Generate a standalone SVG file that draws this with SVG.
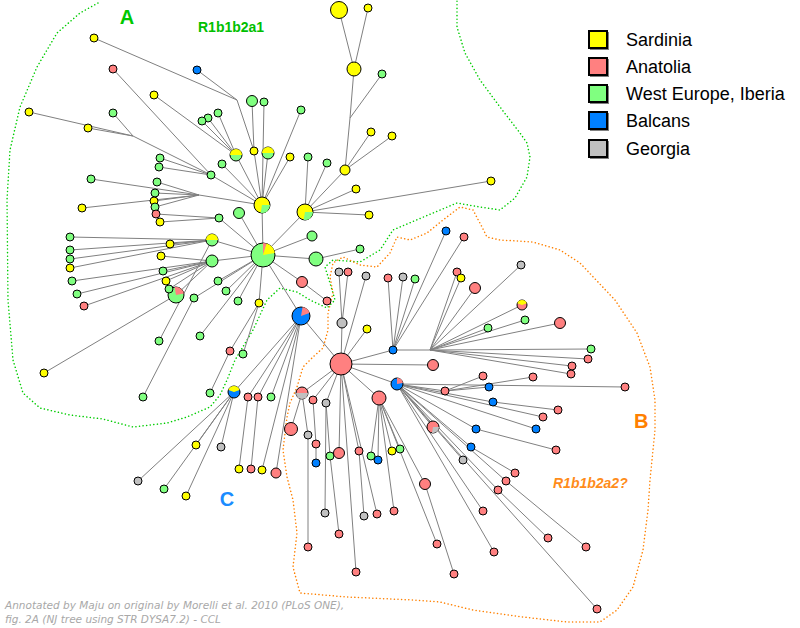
<svg xmlns="http://www.w3.org/2000/svg" width="800" height="628" viewBox="0 0 800 628">
<style>
.y{fill:#ffff00}.p{fill:#ff8080}.g{fill:#80ff80}.b{fill:#0080ff}.k{fill:#c0c0c0}
.n circle{stroke:#000;stroke-width:1}
.w{stroke:none}
#edges line{stroke:#808080;stroke-width:1}
.lab{font-family:"Liberation Sans",Arial,sans-serif;font-weight:bold}
.leg{font-family:"Liberation Sans",Arial,sans-serif;font-size:18px;fill:#000}
.sq{stroke:#000;stroke-width:2}
</style>
<rect width="800" height="628" fill="#fff"/>
<g id="regions" fill="none" stroke-width="1.5" stroke-linecap="round" stroke-dasharray="0.1 3.5">
<polyline stroke="#00cc00" points="98,3 80,13 57,33 37,67 20,107 10,150 7,200 8,300 13,360 23,393 40,408 70,415 103,419 133,427 167,423 187,417 210,407 220,395 227,380 235,360 253,330 267,300 280,288 297,292 310,300 327,308 335,300 330,283 325,267 333,260 360,262 380,250 393,230 400,227 433,213 457,203 480,207 500,210 515,198 527,177 530,157 527,143 520,133 500,107 480,80 465,53 457,27 457,0"/>
<polyline stroke="#ff8000" points="290,403 297,387 303,367 313,357 323,348 328,330 328,313 333,293 330,277 333,263 343,257 360,265 377,267 390,253 397,237 410,240 427,233 443,220 460,207 473,210 482,227 487,237 500,240 533,242 560,250 580,263 598,282 615,300 637,333 650,367 655,400 655,430 650,480 648,510 643,550 633,587 617,610 600,622 567,622 523,617 473,610 440,602 413,600 347,597 300,593 293,567 297,533 293,500 287,477 283,450 287,417 290,403"/>
</g>
<g id="edges">
<line x1="94" y1="38" x2="237" y2="100"/><line x1="197" y1="70" x2="237" y2="100"/><line x1="237" y1="100" x2="254" y2="151"/><line x1="252" y1="101" x2="254" y2="151"/><line x1="254" y1="151" x2="262" y2="205"/>
<line x1="113" y1="69" x2="211" y2="175"/><line x1="29" y1="112" x2="133" y2="136"/><line x1="88" y1="128" x2="133" y2="136"/><line x1="113" y1="113" x2="133" y2="136"/><line x1="133" y1="136" x2="211" y2="175"/><line x1="160" y1="158" x2="211" y2="175"/><line x1="159" y1="167" x2="211" y2="175"/><line x1="211" y1="175" x2="262" y2="205"/>
<line x1="154" y1="95" x2="236" y2="155"/><line x1="202" y1="121" x2="236" y2="155"/><line x1="218" y1="113" x2="236" y2="155"/><line x1="208" y1="118" x2="236" y2="155"/><line x1="236" y1="155" x2="262" y2="205"/>
<line x1="264" y1="102" x2="262" y2="205"/><line x1="301" y1="110" x2="262" y2="205"/><line x1="222" y1="164" x2="262" y2="205"/><line x1="268" y1="153" x2="262" y2="205"/><line x1="290" y1="157" x2="262" y2="205"/>
<line x1="157" y1="182" x2="199" y2="195"/><line x1="155" y1="193" x2="199" y2="195"/><line x1="154" y1="201" x2="199" y2="195"/><line x1="155" y1="207" x2="199" y2="195"/><line x1="91" y1="179" x2="199" y2="195"/><line x1="82" y1="208" x2="199" y2="195"/><line x1="199" y1="195" x2="262" y2="205"/>
<line x1="339" y1="10" x2="354" y2="69"/><line x1="368" y1="8" x2="354" y2="69"/><line x1="354" y1="69" x2="350" y2="118"/><line x1="382" y1="74" x2="350" y2="118"/><line x1="350" y1="118" x2="345" y2="170"/><line x1="371" y1="132" x2="345" y2="170"/><line x1="392" y1="136" x2="345" y2="170"/>
<line x1="345" y1="170" x2="305" y2="212"/><line x1="308" y1="157" x2="305" y2="212"/><line x1="327" y1="163" x2="305" y2="212"/><line x1="356" y1="189" x2="305" y2="212"/><line x1="491" y1="181" x2="305" y2="212"/><line x1="369" y1="215" x2="305" y2="212"/>
<line x1="262" y1="205" x2="263" y2="255"/><line x1="305" y1="212" x2="263" y2="255"/><line x1="239" y1="213" x2="263" y2="255"/>
<line x1="156" y1="214" x2="219" y2="218"/><line x1="160" y1="222" x2="219" y2="218"/><line x1="219" y1="218" x2="263" y2="255"/><line x1="312" y1="236" x2="263" y2="255"/>
<line x1="170" y1="244" x2="212" y2="240"/><line x1="70" y1="237" x2="212" y2="240"/><line x1="70" y1="250" x2="212" y2="240"/><line x1="70" y1="259" x2="212" y2="240"/><line x1="70" y1="268" x2="212" y2="240"/><line x1="159" y1="341" x2="212" y2="240"/><line x1="212" y1="240" x2="263" y2="255"/>
<line x1="161" y1="256" x2="212" y2="261"/><line x1="163" y1="271" x2="212" y2="261"/><line x1="166" y1="281" x2="212" y2="261"/><line x1="72" y1="281" x2="212" y2="261"/><line x1="77" y1="294" x2="212" y2="261"/><line x1="84" y1="306" x2="212" y2="261"/><line x1="169" y1="289" x2="212" y2="261"/><line x1="44" y1="373" x2="176" y2="295"/><line x1="176" y1="295" x2="212" y2="261"/><line x1="212" y1="261" x2="263" y2="255"/>
<line x1="316" y1="259" x2="263" y2="255"/><line x1="360" y1="249" x2="316" y2="259"/><line x1="194" y1="298" x2="263" y2="255"/><line x1="143" y1="397" x2="194" y2="298"/><line x1="200" y1="336" x2="263" y2="255"/><line x1="218" y1="281" x2="263" y2="255"/><line x1="226" y1="291" x2="263" y2="255"/><line x1="238" y1="301" x2="263" y2="255"/><line x1="259" y1="303" x2="263" y2="255"/><line x1="230" y1="351" x2="259" y2="303"/><line x1="243" y1="354" x2="259" y2="303"/><line x1="210" y1="393" x2="230" y2="351"/><line x1="302" y1="282" x2="263" y2="255"/><line x1="327" y1="301" x2="302" y2="282"/>
<line x1="301" y1="316" x2="263" y2="255"/>
<line x1="234" y1="392" x2="301" y2="316"/><line x1="248" y1="397" x2="301" y2="316"/><line x1="258" y1="397" x2="301" y2="316"/><line x1="271" y1="397" x2="301" y2="316"/>
<line x1="196" y1="445" x2="234" y2="392"/><line x1="221" y1="447" x2="234" y2="392"/><line x1="138" y1="481" x2="234" y2="392"/><line x1="164" y1="489" x2="234" y2="392"/><line x1="186" y1="496" x2="234" y2="392"/>
<line x1="239" y1="469" x2="248" y2="397"/><line x1="251" y1="469" x2="258" y2="397"/><line x1="262" y1="470" x2="301" y2="316"/><line x1="276" y1="473" x2="301" y2="316"/>
<line x1="341" y1="364" x2="301" y2="316"/>
<line x1="342" y1="323" x2="341" y2="364"/><line x1="339" y1="272" x2="342" y2="323"/><line x1="348" y1="272" x2="342" y2="323"/><line x1="366" y1="276" x2="341" y2="364"/><line x1="367" y1="329" x2="341" y2="364"/>
<line x1="393" y1="350" x2="341" y2="364"/><line x1="388" y1="278" x2="393" y2="350"/><line x1="446" y1="231" x2="393" y2="350"/><line x1="464" y1="237" x2="393" y2="350"/><line x1="403" y1="277" x2="393" y2="350"/><line x1="415" y1="279" x2="393" y2="350"/>
<line x1="393" y1="350" x2="430" y2="350"/>
<line x1="430" y1="350" x2="457" y2="272"/><line x1="430" y1="350" x2="461" y2="278"/><line x1="430" y1="350" x2="475" y2="288"/><line x1="430" y1="350" x2="521" y2="265"/><line x1="430" y1="350" x2="522" y2="305"/><line x1="430" y1="350" x2="525" y2="320"/><line x1="430" y1="350" x2="488" y2="328"/><line x1="430" y1="350" x2="560" y2="323"/><line x1="430" y1="350" x2="591" y2="349"/><line x1="430" y1="350" x2="588" y2="359"/><line x1="430" y1="350" x2="572" y2="366"/><line x1="430" y1="350" x2="571" y2="374"/>
<line x1="433" y1="365" x2="341" y2="364"/><line x1="397" y1="384" x2="341" y2="364"/>
<line x1="445" y1="391" x2="397" y2="384"/><line x1="483" y1="376" x2="445" y2="391"/><line x1="489" y1="387" x2="445" y2="391"/><line x1="533" y1="377" x2="445" y2="391"/>
<line x1="625" y1="387" x2="397" y2="384"/><line x1="493" y1="402" x2="397" y2="384"/><line x1="558" y1="410" x2="493" y2="402"/><line x1="543" y1="417" x2="397" y2="384"/><line x1="476" y1="429" x2="397" y2="384"/><line x1="556" y1="450" x2="476" y2="429"/><line x1="536" y1="429" x2="397" y2="384"/><line x1="471" y1="447" x2="397" y2="384"/><line x1="515" y1="473" x2="471" y2="447"/><line x1="463" y1="460" x2="397" y2="384"/><line x1="506" y1="481" x2="397" y2="384"/><line x1="586" y1="547" x2="506" y2="481"/><line x1="498" y1="490" x2="397" y2="384"/><line x1="548" y1="538" x2="498" y2="490"/><line x1="483" y1="511" x2="397" y2="384"/><line x1="433" y1="427" x2="397" y2="384"/><line x1="494" y1="552" x2="397" y2="384"/><line x1="597" y1="609" x2="397" y2="384"/>
<line x1="379" y1="398" x2="341" y2="364"/><line x1="425" y1="484" x2="379" y2="398"/><line x1="454" y1="574" x2="425" y2="484"/><line x1="371" y1="456" x2="379" y2="398"/><line x1="378" y1="460" x2="379" y2="398"/><line x1="392" y1="451" x2="379" y2="398"/><line x1="400" y1="449" x2="379" y2="398"/><line x1="394" y1="511" x2="379" y2="398"/><line x1="437" y1="544" x2="379" y2="398"/>
<line x1="302" y1="393" x2="341" y2="364"/><line x1="291" y1="429" x2="302" y2="393"/><line x1="308" y1="435" x2="302" y2="393"/><line x1="308" y1="547" x2="308" y2="435"/>
<line x1="313" y1="400" x2="341" y2="364"/><line x1="316" y1="444" x2="313" y2="400"/><line x1="316" y1="463" x2="316" y2="444"/>
<line x1="326" y1="403" x2="341" y2="364"/><line x1="325" y1="513" x2="326" y2="403"/><line x1="330" y1="456" x2="326" y2="403"/><line x1="339" y1="534" x2="330" y2="456"/>
<line x1="339" y1="453" x2="341" y2="364"/><line x1="359" y1="451" x2="341" y2="364"/><line x1="364" y1="516" x2="359" y2="451"/><line x1="356" y1="572" x2="341" y2="364"/><line x1="377" y1="514" x2="341" y2="364"/>
</g>
<g id="nodes" class="n">
<g id="n-a1"><circle class="y" cx="94" cy="38" r="4"/></g>
<g id="n-a2"><circle class="p" cx="113" cy="69" r="4"/></g>
<g id="n-a3"><circle class="b" cx="197" cy="70" r="4"/></g>
<g id="n-a4"><circle class="y" cx="154" cy="95" r="4"/></g>
<g id="n-a6"><circle class="y" cx="29" cy="112" r="4"/></g>
<g id="n-a7"><circle class="y" cx="88" cy="128" r="4"/></g>
<g id="n-a8"><circle class="g" cx="113" cy="113" r="4"/></g>
<g id="n-a9"><circle class="y" cx="339" cy="10" r="8.5"/></g>
<g id="n-a10"><circle class="y" cx="368" cy="8" r="4"/></g>
<g id="n-a11"><circle class="y" cx="354" cy="69" r="7"/></g>
<g id="n-a12"><circle class="g" cx="382" cy="74" r="4"/></g>
<g id="n-a13"><circle class="g" cx="252" cy="101" r="5.5"/></g>
<g id="n-a14"><circle class="g" cx="264" cy="102" r="4"/></g>
<g id="n-a15"><circle class="g" cx="301" cy="110" r="4"/></g>
<g id="n-a16"><circle class="g" cx="218" cy="113" r="4"/></g>
<g id="n-a17"><circle class="g" cx="208" cy="118" r="4"/></g>
<g id="n-a18"><circle class="g" cx="202" cy="121" r="4"/></g>
<g id="n-a19"><circle class="g" cx="236" cy="155" r="6"/><path class="y w" d="M230,155 A6,6 0 0 1 242,155 Z"/></g>
<g id="n-a20"><circle class="y" cx="254" cy="151" r="4"/></g>
<g id="n-a21"><circle class="g" cx="268" cy="153" r="6"/><path class="y w" d="M262,153 A6,6 0 0 1 274,153 Z"/></g>
<g id="n-a22"><circle class="g" cx="222" cy="164" r="4"/></g>
<g id="n-a23"><circle class="g" cx="211" cy="175" r="4"/></g>
<g id="n-a24"><circle class="y" cx="290" cy="157" r="4"/></g>
<g id="n-a25"><circle class="g" cx="308" cy="157" r="4"/></g>
<g id="n-a26"><circle class="g" cx="327" cy="163" r="4"/></g>
<g id="n-a27"><circle class="y" cx="345" cy="170" r="5"/></g>
<g id="n-a28"><circle class="y" cx="371" cy="132" r="4"/></g>
<g id="n-a29"><circle class="y" cx="392" cy="136" r="4"/></g>
<g id="n-a30"><circle class="y" cx="356" cy="189" r="4"/></g>
<g id="n-y1"><circle class="y" cx="262" cy="205" r="8"/><path class="g w" d="M262,205 L270,205 A8,8 0 0 1 260.6,212.9 Z"/></g>
<g id="n-y2"><circle class="y" cx="305" cy="212" r="8"/><path class="g w" d="M305,212 L313,212 A8,8 0 0 1 303.6,219.9 Z"/></g>
<g id="n-a33"><circle class="y" cx="491" cy="181" r="4"/></g>
<g id="n-a34"><circle class="g" cx="160" cy="158" r="4"/></g>
<g id="n-a35"><circle class="g" cx="159" cy="167" r="4"/></g>
<g id="n-a36"><circle class="g" cx="157" cy="182" r="4"/></g>
<g id="n-a37"><circle class="g" cx="155" cy="193" r="4"/></g>
<g id="n-a38"><circle class="y" cx="154" cy="201" r="4"/></g>
<g id="n-a39"><circle class="g" cx="155" cy="207" r="4"/></g>
<g id="n-a40"><circle class="p" cx="156" cy="214" r="4"/></g>
<g id="n-a41"><circle class="y" cx="160" cy="222" r="4"/></g>
<g id="n-a42"><circle class="g" cx="91" cy="179" r="4"/></g>
<g id="n-a43"><circle class="y" cx="82" cy="208" r="4"/></g>
<g id="n-a44"><circle class="g" cx="239" cy="213" r="5.5"/></g>
<g id="n-a45"><circle class="g" cx="219" cy="218" r="4"/></g>
<g id="n-a46"><circle class="y" cx="369" cy="215" r="4"/></g>
<g id="n-a47"><circle class="g" cx="312" cy="236" r="5"/></g>
<g id="n-a48"><circle class="g" cx="212" cy="240" r="6"/><path class="y w" d="M206,240 A6,6 0 0 1 218,240 Z"/></g>
<g id="n-a49"><circle class="y" cx="170" cy="244" r="4"/></g>
<g id="n-a50"><circle class="y" cx="161" cy="256" r="4"/></g>
<g id="n-a51"><circle class="g" cx="163" cy="271" r="4"/></g>
<g id="n-a52"><circle class="y" cx="166" cy="281" r="4"/></g>
<g id="n-a53"><circle class="g" cx="70" cy="237" r="4"/></g>
<g id="n-a54"><circle class="g" cx="70" cy="250" r="4"/></g>
<g id="n-a55"><circle class="g" cx="70" cy="259" r="4"/></g>
<g id="n-a56"><circle class="y" cx="70" cy="268" r="4"/></g>
<g id="n-a57"><circle class="g" cx="72" cy="281" r="4"/></g>
<g id="n-a58"><circle class="g" cx="77" cy="294" r="4"/></g>
<g id="n-a59"><circle class="p" cx="84" cy="306" r="4"/></g>
<g id="n-a60"><circle class="g" cx="212" cy="261" r="6"/></g>
<g id="n-g0"><circle class="g" cx="263" cy="255" r="12"/><path class="p w" d="M263,255 L263,243 A12,12 0 0 1 266.7,243.6 Z"/><path class="y w" d="M263,255 L266.7,243.6 A12,12 0 0 1 274.8,252.9 Z"/></g>
<g id="n-a62"><circle class="g" cx="316" cy="259" r="7"/></g>
<g id="n-a63"><circle class="g" cx="360" cy="249" r="4"/></g>
<g id="n-a64"><circle class="g" cx="176" cy="295" r="8"/><path class="p w" d="M176,295 L174.6,287.1 A8,8 0 0 1 183.9,293.6 Z"/></g>
<g id="n-a65"><circle class="g" cx="169" cy="289" r="4"/></g>
<g id="n-a66"><circle class="g" cx="194" cy="298" r="4"/></g>
<g id="n-a67"><circle class="y" cx="44" cy="373" r="4"/></g>
<g id="n-a68"><circle class="g" cx="159" cy="341" r="4"/></g>
<g id="n-a69"><circle class="g" cx="143" cy="397" r="4"/></g>
<g id="n-a70"><circle class="g" cx="200" cy="336" r="4"/></g>
<g id="n-a71"><circle class="g" cx="218" cy="281" r="4"/></g>
<g id="n-a72"><circle class="g" cx="226" cy="291" r="4"/></g>
<g id="n-a73"><circle class="g" cx="238" cy="301" r="4"/></g>
<g id="n-a74"><circle class="y" cx="259" cy="303" r="4"/></g>
<g id="n-a75"><circle class="p" cx="230" cy="351" r="4"/></g>
<g id="n-a76"><circle class="g" cx="243" cy="354" r="4"/></g>
<g id="n-a77"><circle class="p" cx="302" cy="282" r="5.5"/></g>
<g id="n-a78"><circle class="p" cx="327" cy="301" r="4"/></g>
<g id="n-b0"><circle class="b" cx="301" cy="316" r="9"/><path class="p w" d="M301,316 L302.6,307.1 A9,9 0 0 1 309.5,312.9 Z"/></g>
<g id="n-c1"><circle class="b" cx="234" cy="392" r="6"/><path class="y w" d="M234,392 L228.4,389.9 A6,6 0 0 1 239.6,389.9 Z"/></g>
<g id="n-c2"><circle class="g" cx="210" cy="393" r="4"/></g>
<g id="n-c3"><circle class="p" cx="248" cy="397" r="4"/></g>
<g id="n-c4"><circle class="p" cx="258" cy="397" r="4"/></g>
<g id="n-c5"><circle class="g" cx="271" cy="397" r="4"/></g>
<g id="n-c6"><circle class="y" cx="196" cy="445" r="4"/></g>
<g id="n-c7"><circle class="k" cx="221" cy="447" r="4"/></g>
<g id="n-c8"><circle class="k" cx="138" cy="481" r="4"/></g>
<g id="n-c9"><circle class="g" cx="164" cy="489" r="4"/></g>
<g id="n-c10"><circle class="y" cx="186" cy="496" r="4"/></g>
<g id="n-c11"><circle class="y" cx="239" cy="469" r="4"/></g>
<g id="n-c12"><circle class="p" cx="251" cy="469" r="4"/></g>
<g id="n-c13"><circle class="y" cx="262" cy="470" r="4"/></g>
<g id="n-c14"><circle class="p" cx="276" cy="473" r="5"/></g>
<g id="n-p0"><circle class="p" cx="341" cy="364" r="11"/></g>
<g id="n-b1"><circle class="k" cx="342" cy="323" r="5"/></g>
<g id="n-b2"><circle class="k" cx="339" cy="272" r="4"/></g>
<g id="n-b3"><circle class="p" cx="348" cy="272" r="4"/></g>
<g id="n-b4"><circle class="k" cx="366" cy="276" r="4"/></g>
<g id="n-b5"><circle class="p" cx="388" cy="278" r="4"/></g>
<g id="n-b6"><circle class="y" cx="367" cy="329" r="4"/></g>
<g id="n-b7"><circle class="b" cx="393" cy="350" r="4"/></g>
<g id="n-b8"><circle class="b" cx="446" cy="231" r="4"/></g>
<g id="n-b9"><circle class="p" cx="464" cy="237" r="4"/></g>
<g id="n-b10"><circle class="k" cx="403" cy="277" r="4"/></g>
<g id="n-b11"><circle class="g" cx="415" cy="279" r="4"/></g>
<g id="n-b12"><circle class="p" cx="457" cy="272" r="4"/></g>
<g id="n-b13"><circle class="y" cx="461" cy="278" r="4"/></g>
<g id="n-b14"><circle class="p" cx="475" cy="288" r="5.5"/></g>
<g id="n-b15"><circle class="k" cx="521" cy="265" r="4"/></g>
<g id="n-b16"><circle class="p" cx="522" cy="305" r="5"/><path class="y w" d="M522,305 L517.3,303.3 A5,5 0 0 1 526.7,303.3 Z"/></g>
<g id="n-b17"><circle class="g" cx="525" cy="320" r="4"/></g>
<g id="n-b18"><circle class="g" cx="488" cy="328" r="4"/></g>
<g id="n-b19"><circle class="p" cx="560" cy="323" r="5.5"/></g>
<g id="n-b20"><circle class="g" cx="591" cy="349" r="4"/></g>
<g id="n-b21"><circle class="p" cx="588" cy="359" r="4"/></g>
<g id="n-b22"><circle class="p" cx="572" cy="366" r="4"/></g>
<g id="n-b23"><circle class="p" cx="571" cy="374" r="4"/></g>
<g id="n-b24"><circle class="p" cx="433" cy="365" r="5.5"/></g>
<g id="n-bp"><circle class="b" cx="397" cy="384" r="6"/><path class="p w" d="M397,384 L397,378 A6,6 0 0 1 402.9,383 Z"/></g>
<g id="n-b26"><circle class="p" cx="445" cy="391" r="4"/></g>
<g id="n-b27"><circle class="p" cx="483" cy="376" r="4"/></g>
<g id="n-b28"><circle class="b" cx="489" cy="387" r="4"/></g>
<g id="n-b29"><circle class="p" cx="533" cy="377" r="4"/></g>
<g id="n-b30"><circle class="p" cx="625" cy="387" r="4"/></g>
<g id="n-b31"><circle class="b" cx="493" cy="402" r="4"/></g>
<g id="n-b32"><circle class="p" cx="558" cy="410" r="4"/></g>
<g id="n-b33"><circle class="p" cx="543" cy="417" r="4"/></g>
<g id="n-b34"><circle class="b" cx="476" cy="429" r="4"/></g>
<g id="n-b35"><circle class="p" cx="556" cy="450" r="4"/></g>
<g id="n-b36"><circle class="b" cx="536" cy="429" r="4"/></g>
<g id="n-b37"><circle class="b" cx="471" cy="447" r="4"/></g>
<g id="n-b38"><circle class="p" cx="515" cy="473" r="4"/></g>
<g id="n-b39"><circle class="k" cx="463" cy="460" r="4"/></g>
<g id="n-b40"><circle class="p" cx="506" cy="481" r="4"/></g>
<g id="n-b41"><circle class="p" cx="586" cy="547" r="4"/></g>
<g id="n-b42"><circle class="p" cx="498" cy="490" r="4"/></g>
<g id="n-b43"><circle class="p" cx="548" cy="538" r="4"/></g>
<g id="n-b44"><circle class="p" cx="483" cy="511" r="4"/></g>
<g id="n-b45"><circle class="p" cx="433" cy="427" r="6"/><path class="k w" d="M433,427 L439,427 A6,6 0 0 1 432,432.9 Z"/></g>
<g id="n-b46"><circle class="p" cx="494" cy="552" r="4"/></g>
<g id="n-b47"><circle class="p" cx="454" cy="574" r="4"/></g>
<g id="n-b48"><circle class="p" cx="425" cy="484" r="5.5"/></g>
<g id="n-b49"><circle class="p" cx="379" cy="398" r="7"/></g>
<g id="n-b50"><circle class="p" cx="597" cy="609" r="4"/></g>
<g id="n-b51"><circle class="g" cx="371" cy="456" r="4"/></g>
<g id="n-b52"><circle class="b" cx="378" cy="460" r="4"/></g>
<g id="n-b53"><circle class="y" cx="392" cy="451" r="4"/></g>
<g id="n-b54"><circle class="g" cx="400" cy="449" r="4"/></g>
<g id="n-b55"><circle class="p" cx="394" cy="511" r="4"/></g>
<g id="n-b56"><circle class="p" cx="437" cy="544" r="4"/></g>
<g id="n-b57"><circle class="p" cx="302" cy="393" r="6"/><path class="k w" d="M296,393 A6,6 0 0 0 308,393 Z"/></g>
<g id="n-b58"><circle class="p" cx="291" cy="429" r="6.5"/></g>
<g id="n-b59"><circle class="k" cx="308" cy="435" r="4"/></g>
<g id="n-b60"><circle class="p" cx="308" cy="547" r="4"/></g>
<g id="n-b61"><circle class="p" cx="313" cy="400" r="4"/></g>
<g id="n-b62"><circle class="p" cx="316" cy="444" r="4"/></g>
<g id="n-b63"><circle class="b" cx="316" cy="463" r="4"/></g>
<g id="n-b64"><circle class="k" cx="326" cy="403" r="4"/></g>
<g id="n-b65"><circle class="k" cx="325" cy="513" r="4"/></g>
<g id="n-b66"><circle class="g" cx="330" cy="456" r="4"/></g>
<g id="n-b67"><circle class="p" cx="339" cy="534" r="4"/></g>
<g id="n-b68"><circle class="p" cx="339" cy="453" r="5.5"/></g>
<g id="n-b69"><circle class="p" cx="359" cy="451" r="4"/></g>
<g id="n-b70"><circle class="k" cx="364" cy="516" r="4"/></g>
<g id="n-b71"><circle class="p" cx="356" cy="572" r="4"/></g>
<g id="n-b72"><circle class="p" cx="377" cy="514" r="4"/></g>
</g>
<g id="labels">
<text class="lab" x="127" y="24" font-size="20" fill="#00c800" text-anchor="middle">A</text>
<text class="lab" x="198" y="32" font-size="14" fill="#00c000">R1b1b2a1</text>
<text class="lab" x="634" y="428" font-size="20" fill="#ff8000">B</text>
<text class="lab" x="553" y="488" font-size="14" fill="#ff8c1a" font-style="italic">R1b1b2a2?</text>
<text class="lab" x="227" y="506" font-size="20" fill="#1a8cff" text-anchor="middle">C</text>
</g>
<g id="legend">
<rect x="590" y="32" width="19" height="18" fill="#808080"/><rect class="sq y" x="589" y="31" width="18" height="17"/>
<rect x="590" y="59" width="19" height="18" fill="#808080"/><rect class="sq p" x="589" y="58" width="18" height="17"/>
<rect x="590" y="86" width="19" height="18" fill="#808080"/><rect class="sq g" x="589" y="85" width="18" height="17"/>
<rect x="590" y="113" width="19" height="18" fill="#808080"/><rect class="sq b" x="589" y="112" width="18" height="17"/>
<rect x="590" y="141" width="19" height="18" fill="#808080"/><rect class="sq k" x="589" y="140" width="18" height="17"/>
<text class="leg" x="626" y="46">Sardinia</text>
<text class="leg" x="626" y="73">Anatolia</text>
<text class="leg" x="626" y="100">West Europe, Iberia</text>
<text class="leg" x="626" y="127">Balcans</text>
<text class="leg" x="626" y="155">Georgia</text>
</g>
<g id="credit" font-family="'DejaVu Sans',Verdana,sans-serif" font-size="10.5" font-style="italic" fill="#a8a8a8">
<text x="5" y="609">Annotated by Maju on original by Morelli et al. 2010 (PLoS ONE),</text>
<text x="5" y="623">fig. 2A (NJ tree using STR DYSA7.2) - CCL</text>
</g>
</svg>
